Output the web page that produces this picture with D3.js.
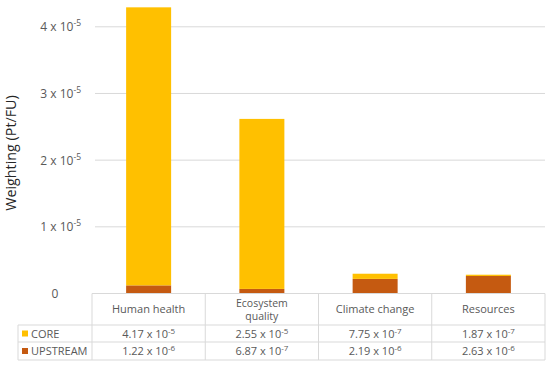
<!DOCTYPE html>
<html><head><meta charset="utf-8">
<script src="https://cdn.jsdelivr.net/npm/d3@7"></script>
<style>body{margin:0;background:#fff}text{font-family:"Open Sans",sans-serif;fill:#595959}</style>
</head><body>
<svg id="c" width="550" height="368"></svg>
<script>
const categories = ["Human health", "Ecosystem quality", "Climate change", "Resources"];
const categoryLines = [["Human health"], ["Ecosystem", "quality"], ["Climate change"], ["Resources"]];
const seriesNames = ["CORE", "UPSTREAM"];
const coreValues = [4.17e-5, 2.55e-5, 7.75e-7, 1.87e-7];
const upstreamValues = [1.22e-6, 6.87e-7, 2.19e-6, 2.63e-6];
const coreLabels = [["4.17", "-5"], ["2.55", "-5"], ["7.75", "-7"], ["1.87", "-7"]];
const upstreamLabels = [["1.22", "-6"], ["6.87", "-7"], ["2.19", "-6"], ["2.63", "-6"]];
const yTicks = [0, 1e-5, 2e-5, 3e-5, 4e-5];
const colors = {CORE: "#FFC000", UPSTREAM: "#C55A11"};

const svg = d3.select("#c");
const L = 92, R = 545, T0 = 293.5, yTop = 26.8, tblL = 18;
const x = d3.scaleBand().domain(categories).range([L, R]).paddingInner(0).paddingOuter(0);
const y = d3.scaleLinear().domain([0, 4e-5]).range([T0, yTop]);

// gridlines
svg.append("g").selectAll("line").data(yTicks.filter(d => d > 0)).join("line")
  .attr("x1", 95).attr("x2", R).attr("y1", d => y(d)).attr("y2", d => y(d))
  .attr("stroke", "#d9d9d9").attr("stroke-width", 1);

// tick labels
const tl = svg.append("g").selectAll("text").data(yTicks).join("text")
  .attr("x", 81).attr("y", d => y(d) + 4.5).attr("text-anchor", "end")
  .style("font-size", "12px");
tl.each(function(d) {
  const t = d3.select(this);
  if (d === 0) { t.attr("x", 55).attr("text-anchor", "middle").text("0"); return; }
  t.append("tspan").text(Math.round(d / 1e-5) + " x 10");
  t.append("tspan").attr("dy", -5).style("font-size", "8.5px").text("-5");
});

// axis title
svg.append("text").attr("transform", `translate(16,${153}) rotate(-90)`)
  .attr("text-anchor", "middle").style("font-size", "14.3px").style("fill", "#262626")
  .text("Weighting (Pt/FU)");

// stacked bars
const data = categories.map((c, i) => ({cat: c, CORE: coreValues[i], UPSTREAM: upstreamValues[i]}));
const stack = d3.stack().keys(["UPSTREAM", "CORE"])(data);
const bw = 45;
svg.append("g").selectAll("g").data(stack).join("g").attr("fill", s => colors[s.key])
  .selectAll("rect").data(s => s).join("rect")
  .attr("x", d => x(d.data.cat) + x.bandwidth() / 2 - bw / 2)
  .attr("width", bw)
  .attr("y", d => y(d[1])).attr("height", d => y(d[0]) - y(d[1]));

// data table
const rowTop = [T0, 325, 342, 360];
const g = svg.append("g").attr("stroke", "#d9d9d9").attr("stroke-width", 1);
g.append("line").attr("x1", L).attr("x2", R).attr("y1", rowTop[0]).attr("y2", rowTop[0]);
[1, 2, 3].forEach(i => g.append("line").attr("x1", tblL).attr("x2", R).attr("y1", rowTop[i]).attr("y2", rowTop[i]));
g.append("line").attr("x1", tblL).attr("x2", tblL).attr("y1", rowTop[1]).attr("y2", rowTop[3]);
categories.forEach(c => g.append("line").attr("x1", x(c)).attr("x2", x(c)).attr("y1", rowTop[0]).attr("y2", rowTop[3]));
g.append("line").attr("x1", R).attr("x2", R).attr("y1", rowTop[0]).attr("y2", rowTop[3]);

const cx = c => x(c) + x.bandwidth() / 2;
categories.forEach((c, i) => {
  const lines = categoryLines[i];
  const mid = (rowTop[0] + rowTop[1]) / 2;
  lines.forEach((ln, j) => {
    svg.append("text").attr("x", cx(c)).attr("y", mid + 4 + (j - (lines.length - 1) / 2) * 13.5)
      .attr("text-anchor", "middle").style("font-size", lines.length > 1 ? "10.5px" : "11px").text(ln);
  });
});
function valText(c, lab, yy) {
  const t = svg.append("text").attr("x", cx(c)).attr("y", yy).attr("text-anchor", "middle").style("font-size", "11px");
  t.append("tspan").text(lab[0] + " x 10");
  t.append("tspan").attr("dy", -4).style("font-size", "8px").text(lab[1]);
}
categories.forEach((c, i) => {
  valText(c, coreLabels[i], (rowTop[1] + rowTop[2]) / 2 + 4);
  valText(c, upstreamLabels[i], (rowTop[2] + rowTop[3]) / 2 + 4);
});
// legend keys
seriesNames.forEach((s, i) => {
  const mid = (rowTop[i + 1] + rowTop[i + 2]) / 2;
  svg.append("rect").attr("x", 22).attr("y", mid - 3).attr("width", 6).attr("height", 6).attr("fill", colors[s]);
  svg.append("text").attr("x", 31).attr("y", mid + 4).style("font-size", "11px").text(s);
});
</script>
</body></html>
